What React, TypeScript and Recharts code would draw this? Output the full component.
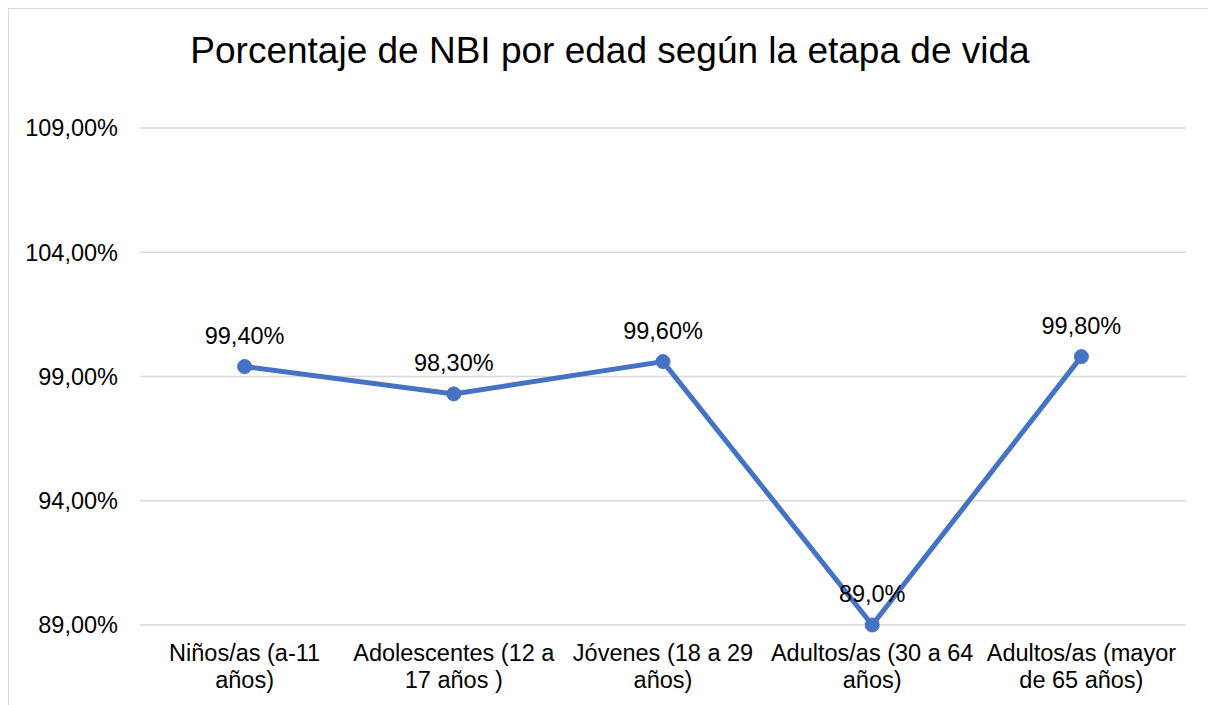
import React from "react"
import { CartesianGrid, LabelList, Line, LineChart, XAxis, YAxis } from "recharts"

// Datos del gráfico
const categories = [
  "Niños/as (a-11 años)",
  "Adolescentes (12 a 17 años )",
  "Jóvenes (18 a 29 años)",
  "Adultos/as (30 a 64 años)",
  "Adultos/as (mayor de 65 años)",
]
const categoryLines = [
  ["Niños/as (a-11", "años)"],
  ["Adolescentes (12 a", "17 años )"],
  ["Jóvenes (18 a 29", "años)"],
  ["Adultos/as (30 a 64", "años)"],
  ["Adultos/as (mayor", "de 65 años)"],
]
const values = [99.4, 98.3, 99.6, 89.0, 99.8]
const valueLabels = ["99,40%", "98,30%", "99,60%", "89,0%", "99,80%"]
const yTicks = [89, 94, 99, 104, 109]
const title = "Porcentaje de NBI por edad según la etapa de vida"

const data = categories.map((name, i) => ({ name, value: values[i], label: valueLabels[i] }))

const FONT = "'Liberation Sans', Arial, sans-serif"

if (typeof document !== "undefined") {
  document.documentElement.style.overflow = "hidden"
  document.body.style.overflow = "hidden"
}

function CategoryTick(props: any) {
  const { x, y, index } = props
  const lines = categoryLines[index] || []
  return (
    <g>
      {lines.map((line, i) => (
        <text
          key={i}
          x={x}
          y={y + 36 + i * 27}
          textAnchor="middle"
          fontSize={23.5}
          fontFamily={FONT}
          fill="#000"
        >
          {line}
        </text>
      ))}
    </g>
  )
}

export default function App() {
  return (
    <div
      style={{
        position: "absolute",
        left: 8,
        top: 8,
        width: 1260,
        height: 760,
        overflow: "hidden",
        boxSizing: "border-box",
        borderTop: "1px solid #d9d9d9",
        borderLeft: "1px solid #d9d9d9",
      }}
    >
      <svg width={1200} height={90} style={{ position: "absolute", left: -1, top: -1 }}>
        <text x={602} y={55} textAnchor="middle" fontSize={37} fontFamily={FONT} fill="#000">
          {title}
        </text>
      </svg>
      <div style={{ position: "absolute", left: -1, top: -1 }}>
        <LineChart width={1200} height={697} data={data} margin={{ top: 120, right: 22, bottom: 0, left: 0 }}>
          <CartesianGrid vertical={false} stroke="#d9d9d9" strokeWidth={1.5} />
          <XAxis
            dataKey="name"
            axisLine={false}
            tickLine={false}
            tickSize={0}
            tickMargin={0}
            height={80}
            interval={0}
            padding={{ left: 104.6, right: 104.6 }}
            tick={<CategoryTick />}
          />
          <YAxis
            domain={[89, 109]}
            ticks={yTicks}
            axisLine={false}
            tickLine={false}
            tickSize={0}
            tickMargin={22}
            width={132}
            tickFormatter={(v) => `${v.toFixed(2).replace(".", ",")}%`}
            tick={{ fontSize: 23.5, fontFamily: FONT, fill: "#000" }}
          />
          <Line
            type="linear"
            dataKey="value"
            stroke="#4472c4"
            strokeWidth={5}
            dot={{ r: 7, fill: "#4472c4", stroke: "#4472c4", strokeWidth: 1 }}
            isAnimationActive={false}
          >
            <LabelList
              dataKey="label"
              position="top"
              offset={23}
              style={{ fontSize: 23.5, fontFamily: FONT, fill: "#000" }}
            />
          </Line>
        </LineChart>
      </div>
    </div>
  )
}
